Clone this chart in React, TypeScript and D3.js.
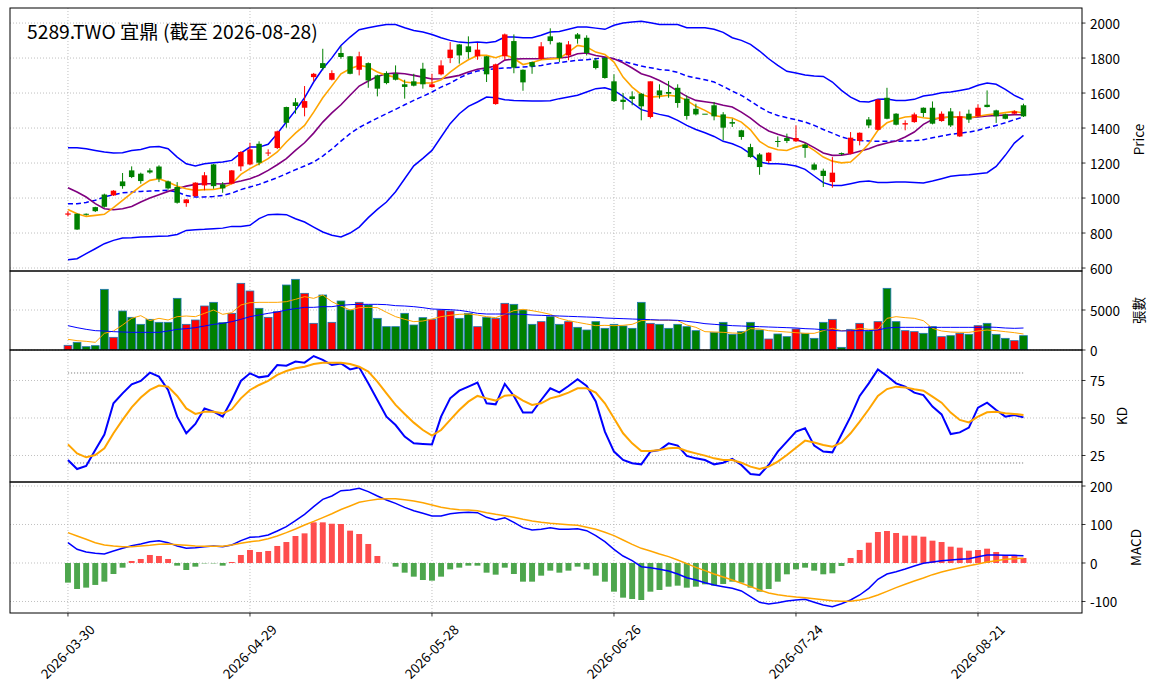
import React from "react";
import * as d3 from "d3";

// trading-day index of each labelled x tick
const tickIdx = [0, 20, 40, 60, 80, 100];
const tickLabels = ["2026-03-30", "2026-04-29", "2026-05-28", "2026-06-26", "2026-07-24", "2026-08-21"];

const opens = [905, 910, 910, 948, 1020, 1015, 1095, 1158, 1139, 1158, 1180, 1095, 1063, 971, 1011, 1072, 1192, 1078, 1082, 1181, 1192, 1310, 1255, 1286, 1520, 1547, 1516, 1691, 1771, 1676, 1829, 1810, 1733, 1771, 1701, 1714, 1710, 1650, 1667, 1739, 1634, 1707, 1800, 1878, 1867, 1810, 1810, 1537, 1810, 1897, 1733, 1777, 1796, 1924, 1888, 1815, 1935, 1916, 1787, 1800, 1667, 1562, 1581, 1596, 1463, 1615, 1606, 1630, 1568, 1510, 1482, 1530, 1478, 1434, 1387, 1291, 1249, 1211, 1326, 1343, 1324, 1305, 1192, 1156, 1091, 1257, 1253, 1326, 1449, 1390, 1573, 1482, 1420, 1434, 1516, 1516, 1440, 1495, 1352, 1482, 1467, 1533, 1501, 1478, 1482, 1530];
const highs = [925, 912, 912, 950, 1025, 1045, 1143, 1181, 1145, 1170, 1187, 1100, 1091, 994, 1090, 1148, 1195, 1091, 1160, 1268, 1316, 1324, 1278, 1385, 1522, 1571, 1640, 1715, 1853, 1730, 1867, 1812, 1836, 1775, 1705, 1724, 1758, 1676, 1710, 1773, 1710, 1787, 1891, 1880, 1924, 1886, 1812, 1768, 1940, 1935, 1735, 1780, 1891, 1970, 1890, 1897, 1943, 1930, 1800, 1806, 1707, 1600, 1610, 1600, 1667, 1650, 1669, 1650, 1587, 1539, 1482, 1549, 1491, 1453, 1390, 1310, 1257, 1261, 1352, 1368, 1415, 1314, 1202, 1168, 1234, 1260, 1377, 1375, 1463, 1566, 1630, 1485, 1444, 1488, 1518, 1552, 1495, 1514, 1495, 1505, 1535, 1615, 1505, 1482, 1501, 1539];
const lows = [895, 818, 900, 920, 945, 1012, 1053, 1114, 1082, 1139, 1091, 1048, 968, 950, 1008, 1044, 1053, 1030, 1078, 1154, 1187, 1187, 1240, 1280, 1402, 1482, 1467, 1667, 1730, 1672, 1796, 1707, 1701, 1630, 1581, 1650, 1672, 1568, 1638, 1625, 1630, 1701, 1771, 1768, 1796, 1790, 1663, 1533, 1790, 1713, 1613, 1710, 1790, 1878, 1777, 1787, 1882, 1815, 1735, 1682, 1549, 1505, 1530, 1444, 1455, 1568, 1573, 1516, 1448, 1472, 1482, 1444, 1330, 1406, 1333, 1230, 1133, 1200, 1291, 1314, 1320, 1230, 1158, 1063, 1059, 1245, 1250, 1301, 1400, 1388, 1450, 1415, 1387, 1430, 1463, 1421, 1436, 1406, 1349, 1429, 1463, 1518, 1429, 1450, 1478, 1463];
const closes = [912, 820, 905, 925, 950, 1042, 1068, 1120, 1097, 1146, 1110, 1055, 973, 992, 1088, 1130, 1068, 1055, 1158, 1263, 1278, 1202, 1260, 1381, 1430, 1526, 1554, 1710, 1743, 1714, 1806, 1710, 1810, 1672, 1625, 1657, 1676, 1635, 1642, 1650, 1650, 1758, 1848, 1815, 1834, 1848, 1707, 1764, 1935, 1745, 1661, 1752, 1867, 1897, 1800, 1878, 1910, 1829, 1743, 1686, 1554, 1549, 1566, 1524, 1667, 1587, 1596, 1543, 1469, 1478, 1482, 1467, 1402, 1425, 1349, 1234, 1177, 1259, 1322, 1326, 1343, 1286, 1162, 1126, 1145, 1251, 1345, 1373, 1415, 1562, 1453, 1419, 1428, 1478, 1486, 1425, 1482, 1415, 1467, 1448, 1516, 1520, 1467, 1453, 1495, 1467];
const volumes = [583, 958, 417, 542, 7583, 1583, 4875, 4083, 3208, 3833, 3458, 3458, 6458, 3208, 3750, 5500, 5958, 3417, 4583, 8333, 7375, 5208, 4083, 4792, 8125, 8833, 7083, 3333, 6875, 3458, 6125, 5000, 5958, 5625, 3958, 2917, 2917, 4583, 3125, 4042, 3833, 5000, 4875, 3958, 4583, 2917, 4083, 3958, 5833, 5708, 5000, 3208, 3542, 4167, 3208, 3542, 2833, 2500, 3542, 2708, 3208, 3000, 2708, 5958, 3333, 3208, 2708, 3208, 2917, 2417, 0, 2208, 3458, 1958, 2292, 3458, 2500, 1375, 2000, 1667, 2625, 2083, 1458, 3458, 3833, 333, 2583, 3333, 2375, 3542, 7708, 3542, 2417, 2292, 2083, 2917, 1667, 1792, 2083, 1958, 3042, 3333, 1958, 1458, 1167, 1792];

const ma5 = [935, 910, 895, 901, 907, 945, 987, 1028, 1068, 1101, 1110, 1091, 1067, 1053, 1044, 1048, 1049, 1059, 1082, 1135, 1168, 1196, 1225, 1263, 1320, 1371, 1415, 1491, 1573, 1641, 1710, 1739, 1758, 1749, 1720, 1701, 1691, 1663, 1657, 1657, 1657, 1676, 1720, 1758, 1790, 1815, 1815, 1802, 1820, 1797, 1763, 1775, 1790, 1795, 1798, 1834, 1872, 1863, 1834, 1821, 1777, 1691, 1634, 1592, 1577, 1581, 1587, 1581, 1558, 1524, 1501, 1472, 1463, 1457, 1434, 1390, 1324, 1291, 1276, 1272, 1291, 1305, 1272, 1234, 1211, 1201, 1206, 1253, 1310, 1387, 1430, 1449, 1463, 1467, 1459, 1453, 1459, 1463, 1463, 1459, 1467, 1476, 1482, 1488, 1495, 1486];
const ma10 = [1059, 1034, 1006, 968, 939, 933, 939, 952, 977, 1000, 1019, 1038, 1053, 1068, 1078, 1082, 1082, 1080, 1086, 1097, 1110, 1130, 1158, 1190, 1225, 1272, 1316, 1371, 1434, 1487, 1533, 1587, 1640, 1669, 1695, 1710, 1714, 1710, 1701, 1691, 1680, 1682, 1691, 1701, 1720, 1736, 1744, 1754, 1788, 1794, 1796, 1796, 1796, 1798, 1800, 1806, 1825, 1829, 1815, 1806, 1796, 1773, 1743, 1710, 1695, 1672, 1644, 1611, 1581, 1558, 1550, 1543, 1530, 1520, 1491, 1457, 1415, 1383, 1364, 1349, 1335, 1316, 1288, 1257, 1244, 1245, 1253, 1267, 1282, 1301, 1314, 1326, 1349, 1377, 1421, 1449, 1459, 1463, 1463, 1459, 1463, 1469, 1472, 1474, 1476, 1476];
const ma20 = [967, 967, 975, 987, 1006, 1019, 1030, 1034, 1038, 1040, 1042, 1044, 1034, 1015, 1006, 1006, 1009, 1015, 1028, 1048, 1063, 1078, 1097, 1116, 1139, 1162, 1183, 1206, 1240, 1280, 1325, 1368, 1403, 1430, 1457, 1482, 1507, 1533, 1558, 1581, 1606, 1634, 1657, 1686, 1710, 1726, 1733, 1739, 1743, 1745, 1749, 1752, 1758, 1768, 1773, 1781, 1787, 1790, 1796, 1802, 1796, 1781, 1768, 1754, 1745, 1735, 1730, 1718, 1697, 1686, 1676, 1663, 1638, 1611, 1587, 1554, 1520, 1491, 1472, 1459, 1448, 1434, 1415, 1392, 1371, 1349, 1335, 1329, 1326, 1324, 1324, 1324, 1326, 1328, 1333, 1345, 1354, 1364, 1371, 1377, 1387, 1402, 1415, 1430, 1448, 1463];
const bbUpper = [1288, 1288, 1282, 1272, 1263, 1257, 1259, 1272, 1278, 1291, 1295, 1282, 1234, 1196, 1183, 1196, 1202, 1206, 1215, 1257, 1291, 1291, 1307, 1368, 1434, 1501, 1573, 1663, 1739, 1801, 1872, 1920, 1962, 1973, 1983, 1992, 1992, 1973, 1958, 1949, 1935, 1916, 1901, 1891, 1888, 1891, 1888, 1895, 1920, 1920, 1916, 1916, 1930, 1949, 1952, 1964, 1977, 1977, 1971, 1964, 1987, 2000, 2006, 2010, 2002, 1992, 1992, 1992, 1973, 1973, 1973, 1964, 1947, 1916, 1901, 1878, 1840, 1796, 1758, 1724, 1714, 1703, 1697, 1695, 1663, 1615, 1577, 1552, 1549, 1564, 1566, 1558, 1558, 1564, 1583, 1590, 1602, 1606, 1615, 1625, 1644, 1657, 1650, 1621, 1587, 1562];
const bbLower = [647, 653, 682, 710, 739, 758, 771, 773, 777, 779, 781, 783, 792, 815, 819, 821, 825, 828, 838, 838, 844, 882, 905, 907, 905, 882, 863, 834, 806, 787, 777, 800, 834, 888, 935, 977, 1036, 1110, 1184, 1227, 1272, 1349, 1425, 1482, 1524, 1549, 1577, 1573, 1562, 1558, 1556, 1554, 1554, 1556, 1568, 1577, 1587, 1606, 1625, 1630, 1615, 1581, 1543, 1505, 1491, 1478, 1467, 1444, 1415, 1392, 1373, 1352, 1324, 1310, 1288, 1253, 1206, 1196, 1196, 1192, 1183, 1164, 1126, 1088, 1072, 1072, 1082, 1093, 1097, 1089, 1089, 1091, 1091, 1089, 1086, 1097, 1110, 1124, 1130, 1133, 1139, 1145, 1181, 1244, 1314, 1358];

const volMa5 = [1333, 1167, 1083, 958, 2083, 2375, 3125, 3958, 4292, 3667, 3958, 3750, 4167, 4250, 4167, 4583, 5000, 4458, 4667, 5625, 5917, 5958, 5958, 5958, 6042, 6333, 6667, 6458, 6875, 6042, 5500, 5000, 5292, 5333, 5292, 4708, 4167, 3833, 3542, 3625, 3875, 4167, 4333, 4458, 4500, 4375, 4167, 4042, 4458, 4917, 5083, 4917, 4708, 4458, 3958, 3667, 3458, 3250, 3042, 3083, 3042, 3083, 3208, 3667, 3750, 3708, 3708, 3667, 3125, 2833, 2292, 2250, 2208, 2125, 2083, 2667, 2625, 2417, 2333, 2250, 2167, 2083, 2083, 2417, 2708, 2417, 2417, 2708, 2583, 2583, 3958, 4167, 4042, 3958, 3667, 2708, 2375, 2250, 2208, 2208, 2375, 2500, 2417, 2292, 2167, 2000];
const volMa20 = [3042, 2792, 2583, 2417, 2375, 2292, 2250, 2208, 2208, 2208, 2208, 2375, 2583, 2667, 2792, 3000, 3208, 3333, 3542, 3833, 4167, 4375, 4583, 4750, 5000, 5167, 5333, 5333, 5417, 5417, 5583, 5667, 5708, 5708, 5708, 5667, 5542, 5500, 5417, 5292, 5125, 5083, 5042, 4958, 4792, 4583, 4500, 4500, 4500, 4500, 4458, 4375, 4333, 4292, 4250, 4208, 4167, 4125, 4083, 4000, 3958, 3917, 3875, 3833, 3792, 3750, 3750, 3708, 3583, 3458, 3292, 3208, 3125, 3042, 3000, 2958, 2917, 2875, 2833, 2792, 2750, 2667, 2625, 2542, 2458, 2375, 2417, 2417, 2417, 2500, 2750, 2833, 2833, 2833, 2833, 2833, 2833, 2833, 2833, 2833, 2833, 2875, 2833, 2750, 2708, 2750];

const kValues = [22, 16, 18, 28.7, 39, 59.8, 66.4, 72.4, 74.7, 80.2, 77.6, 68.7, 50.9, 39.8, 46, 56.4, 54.2, 50.9, 62, 74.7, 79.8, 77.1, 78, 85.3, 84.9, 87.6, 86.9, 91.3, 88.7, 85.3, 86.4, 82.4, 83.8, 73.1, 62, 50.9, 45.3, 37.6, 33.1, 32.7, 32.4, 50.9, 63.1, 68.2, 70.9, 73.6, 59.8, 59.1, 72.7, 64.7, 53.6, 53.6, 62, 69.8, 67.1, 71.3, 75.8, 71.3, 61, 40.9, 27.6, 22, 19.8, 19.1, 27.6, 28.7, 33.1, 31.6, 24.7, 23.1, 22, 19.1, 20.2, 22.7, 18.7, 12.7, 12, 18.7, 27.6, 34.2, 40.9, 43.1, 31.6, 27.6, 27.1, 39, 50.9, 64.7, 73.1, 82.4, 78, 73.1, 70.9, 66.9, 65.3, 57.6, 52.4, 39.3, 40.4, 43.6, 56.9, 60.2, 55.3, 50.9, 52, 50.4];
const dValues = [32.4, 26.4, 23.8, 25.3, 29.8, 39.8, 48.7, 57.1, 63.6, 68.7, 71.6, 70.9, 64.7, 56.4, 52.7, 54.2, 54.2, 53.1, 55.8, 63.1, 68.7, 72, 74.7, 78.7, 81.3, 83.1, 84.2, 86, 86.9, 86.9, 86.9, 86, 84.2, 80.9, 74.2, 66.4, 58.7, 52.7, 46.9, 42, 38.2, 42, 48.7, 55.3, 60.9, 64.7, 63.1, 61.6, 64.9, 65.3, 61.6, 58.7, 59.8, 63.1, 64.7, 66.9, 69.8, 69.8, 66.9, 59.8, 49.8, 39.8, 33.1, 28, 28, 28.7, 29.8, 30.2, 28, 26.4, 24.9, 23.1, 22, 22, 20.2, 17.6, 16, 17.6, 20.9, 25.3, 30.2, 34.9, 33.6, 32, 30.9, 33.5, 39.8, 47.6, 55.8, 64.7, 69.3, 70.9, 70.4, 69.1, 68.2, 64.2, 60.2, 53.6, 48.7, 47.1, 50.9, 53.8, 54.2, 53.1, 52.7, 52];

const macdValues = [52.8, 35.5, 28.6, 25.1, 23.4, 31.2, 38.1, 45, 49.4, 55.4, 58, 52.8, 44.2, 38.1, 39.8, 42.4, 44.2, 42.4, 46.8, 58, 66.7, 68.4, 72.7, 83.1, 94.4, 110, 126.4, 146.3, 165.4, 174, 187.9, 189.6, 193.9, 185.3, 174, 163.6, 155, 144.6, 135.9, 129, 122.1, 122.1, 128.1, 130.7, 131.6, 130.7, 118.6, 111.7, 117.7, 105.6, 91.8, 85.7, 87.4, 91.8, 87.4, 87.4, 89.2, 84, 71, 55.4, 35.5, 18.2, 6.1, -9.5, -12.1, -16.5, -20.8, -28.6, -38.1, -44.2, -51.1, -57.1, -61.5, -65.8, -72.7, -87.4, -102.2, -106.5, -103, -98.7, -96.1, -94.4, -102.2, -109.1, -113.4, -106, -96.1, -83.1, -65.8, -42.4, -28.6, -22.5, -15.6, -7.8, -0.9, 2.6, 6.1, 7.8, 9.5, 11.3, 16.5, 20.8, 20.8, 19.9, 19.9, 19];
const signalValues = [78.8, 70.1, 61.5, 52.8, 46.8, 44.2, 42.4, 42.4, 44.2, 45.9, 48.5, 49.4, 47.6, 45.9, 44.2, 43.3, 43.3, 43.3, 46.8, 51.1, 55.4, 58, 63.2, 70.1, 78.8, 88.3, 98.7, 108, 118, 128, 139, 148, 157.6, 162, 165.4, 167.1, 167.1, 164.5, 161, 156.7, 150.6, 144.6, 141.1, 138.5, 137.7, 135.9, 130.7, 126.4, 122.9, 118.6, 113.4, 109.1, 105.6, 103, 101.3, 99.6, 97.8, 92.6, 87.4, 79.7, 71, 59.7, 48.5, 38.1, 31.2, 23.4, 16.5, 7.8, -1.7, -11.3, -19.9, -28.6, -36.4, -44.2, -52.8, -61.5, -70.1, -77.9, -82.3, -85.7, -88.3, -90, -92.6, -95.2, -97.8, -99.6, -99.6, -96.1, -90.9, -83.1, -73.6, -64.1, -55.4, -46.8, -39, -30.3, -23.4, -17.3, -12.1, -6.9, -2.6, 2.6, 6.1, 9.5, 11.3, 12.1];
const histValues = [-51, -67.5, -64, -57, -48.5, -28.6, -12.1, 5.2, 10.4, 20.8, 18.2, 10.4, -6.9, -18.2, -9.5, -1, -1, -6.9, 2.6, 20.8, 33.8, 28.6, 31.2, 44.2, 54.5, 70.1, 77, 105.6, 105.6, 102, 101.3, 84, 75.3, 49.4, 18.2, 0, -9.5, -25.1, -35.5, -44.2, -45.9, -35.5, -16.5, -12.1, -6.9, -6.9, -25.1, -30.3, -12.1, -28.6, -48.5, -48.5, -32.9, -19.9, -25.1, -19.9, -9.5, -16.5, -32.9, -48.5, -74.5, -90, -93.5, -96.1, -74.5, -70.1, -61.5, -58.9, -64.1, -61.5, -55.4, -58.9, -54.5, -48.5, -51.1, -64.1, -74.5, -67.5, -48.5, -29.4, -16.5, -12.1, -19.9, -29.4, -26.8, -7.8, 13, 33.8, 52.8, 80.5, 83.1, 77.9, 71, 71, 68.4, 58, 54.5, 42.4, 39.8, 32, 33.8, 37.2, 28.6, 20.8, 20.8, 13];

const FONT = '"Noto Sans CJK TC", "Noto Sans", sans-serif';
const LEFT = 10;
const RIGHT = 1082;
const UP = "#ff0000";
const DOWN = "#008000";

const x = d3.scaleLinear().domain([-6.37, 111.43]).range([LEFT, RIGHT]);
const step = x(1) - x(0);

const pricePanel = { top: 8, bottom: 271, y: d3.scaleLinear().domain([583, 2086]).range([271, 8]), ticks: [600, 800, 1000, 1200, 1400, 1600, 1800, 2000] };
const volPanel = { top: 271, bottom: 350, y: d3.scaleLinear().domain([0, 9875]).range([350, 271]), ticks: [0, 5000] };
const kdPanel = { top: 350, bottom: 482, y: d3.scaleLinear().domain([7.33, 95.33]).range([482, 350]), ticks: [25, 50, 75] };
const macdPanel = { top: 482, bottom: 613, y: d3.scaleLinear().domain([-129.9, 210.4]).range([613, 482]), ticks: [-100, 0, 100, 200] };

type Panel = typeof pricePanel;

const linePath = (y: d3.ScaleLinear<number, number>, vals: number[]) =>
  d3.line<number>().x((_, i) => x(i)).y((v) => y(v))(vals) || "";

const PanelFrame = ({ p, label, labelX, id, children }: { p: Panel; label: string; labelX: number; id: string; children?: React.ReactNode }) => (
  <g>
    <defs>
      <clipPath id={id}>
        <rect x={LEFT} y={p.top} width={RIGHT - LEFT} height={p.bottom - p.top} />
      </clipPath>
    </defs>
    {/* grid */}
    {tickIdx.map((t) => (
      <line key={"gx" + t} x1={x(t)} x2={x(t)} y1={p.top} y2={p.bottom} stroke="#b0b0b0" strokeWidth={0.8} strokeDasharray="1 2" />
    ))}
    {p.ticks.map((t) => (
      <line key={"gy" + t} x1={LEFT} x2={RIGHT} y1={p.y(t)} y2={p.y(t)} stroke="#b0b0b0" strokeWidth={0.8} strokeDasharray="1 2" />
    ))}
    <g clipPath={`url(#${id})`}>{children}</g>
    <rect x={LEFT} y={p.top} width={RIGHT - LEFT} height={p.bottom - p.top} fill="none" stroke="#000" strokeWidth={1} />
    {p.ticks.map((t) => (
      <g key={"t" + t}>
        <line x1={RIGHT} x2={RIGHT + 3.5} y1={p.y(t)} y2={p.y(t)} stroke="#000" strokeWidth={0.8} />
        <text x={RIGHT + 8} y={p.y(t)} dominantBaseline="central" fontSize={13.5} fontFamily={FONT} fill="#000">
          {t}
        </text>
      </g>
    ))}
    <text
      transform={`translate(${labelX},${(p.top + p.bottom) / 2}) rotate(-90)`}
      textAnchor="middle"
      dominantBaseline="central"
      fontSize={13.5}
      fontFamily={FONT}
      fill="#000"
    >
      {label}
    </text>
  </g>
);

const App = () => {
  const n = closes.length;
  const idx = d3.range(n);
  const yP = pricePanel.y;
  const yV = volPanel.y;
  const yK = kdPanel.y;
  const yM = macdPanel.y;
  const bodyW = step * 0.6;
  const volW = step * 0.85;
  const histW = step * 0.65;

  return (
    <svg width={1156} height={698} style={{ position: "absolute", left: 0, top: 0, background: "#fff" }}>
      <rect width={1156} height={698} fill="#fff" />

      <PanelFrame p={pricePanel} label="Price" labelX={1138} id="clipPrice">
        <path d={linePath(yP, bbUpper)} fill="none" stroke="#0000ff" strokeWidth={1.5} />
        <path d={linePath(yP, bbLower)} fill="none" stroke="#0000ff" strokeWidth={1.5} />
        <path d={linePath(yP, ma20)} fill="none" stroke="#0000ff" strokeWidth={1.5} strokeDasharray="5 3" />
        <path d={linePath(yP, ma10)} fill="none" stroke="#800080" strokeWidth={1.6} />
        <path d={linePath(yP, ma5)} fill="none" stroke="#ffa500" strokeWidth={1.6} />
        {idx.map((i) => {
          const up = closes[i] > opens[i];
          const c = up ? UP : DOWN;
          const top = yP(Math.max(opens[i], closes[i]));
          const bot = yP(Math.min(opens[i], closes[i]));
          return (
            <g key={i}>
              <line x1={x(i)} x2={x(i)} y1={yP(highs[i])} y2={yP(lows[i])} stroke={c} strokeWidth={1} />
              <rect x={x(i) - bodyW / 2} y={top} width={bodyW} height={Math.max(bot - top, 1)} fill={c} />
            </g>
          );
        })}
      </PanelFrame>

      <PanelFrame p={volPanel} label="張數" labelX={1138} id="clipVol">
        {idx
          .filter((i) => volumes[i] > 0)
          .map((i) => (
            <rect
              key={i}
              x={x(i) - volW / 2}
              y={yV(volumes[i])}
              width={volW}
              height={yV(0) - yV(volumes[i])}
              fill={closes[i] > opens[i] ? UP : DOWN}
              stroke="#1f77b4"
              strokeWidth={0.8}
            />
          ))}
        <path d={linePath(yV, volMa5)} fill="none" stroke="#ffa500" strokeWidth={1} />
        <path d={linePath(yV, volMa20)} fill="none" stroke="#0000ff" strokeWidth={1} />
      </PanelFrame>

      <PanelFrame p={kdPanel} label="KD" labelX={1121} id="clipKd">
        {[80, 20].map((lv) => (
          <line key={lv} x1={x(0)} x2={x(n - 1)} y1={yK(lv)} y2={yK(lv)} stroke="#808080" strokeWidth={1} strokeDasharray="1.2 1.8" />
        ))}
        <path d={linePath(yK, kValues)} fill="none" stroke="#0000ff" strokeWidth={2} />
        <path d={linePath(yK, dValues)} fill="none" stroke="#ffa500" strokeWidth={2} />
      </PanelFrame>

      <PanelFrame p={macdPanel} label="MACD" labelX={1135} id="clipMacd">
        {idx
          .filter((i) => histValues[i] !== 0)
          .map((i) => {
            const v = histValues[i];
            return (
              <rect
                key={i}
                x={x(i) - histW / 2}
                y={yM(Math.max(v, 0))}
                width={histW}
                height={Math.abs(yM(v) - yM(0))}
                fill={v > 0 ? "#ff4d4d" : "#4da64d"}
              />
            );
          })}
        <path d={linePath(yM, macdValues)} fill="none" stroke="#0000ff" strokeWidth={1.5} />
        <path d={linePath(yM, signalValues)} fill="none" stroke="#ffa500" strokeWidth={1.5} />
      </PanelFrame>

      {/* bottom date axis */}
      {tickIdx.map((t, k) => (
        <g key={t}>
          <line x1={x(t)} x2={x(t)} y1={613} y2={616.5} stroke="#000" strokeWidth={0.8} />
          <text
            transform={`translate(${x(t) - 1},651) rotate(-45)`}
            textAnchor="middle"
            dominantBaseline="central"
            fontSize={13.5}
            fontFamily={FONT}
            fill="#000"
          >
            {tickLabels[k]}
          </text>
        </g>
      ))}

      <text x={27} y={38.5} fontSize={19.3} fontFamily={FONT} fill="#000">
        5289.TWO 宜鼎 (截至 2026-08-28)
      </text>
    </svg>
  );
};

export default App;
